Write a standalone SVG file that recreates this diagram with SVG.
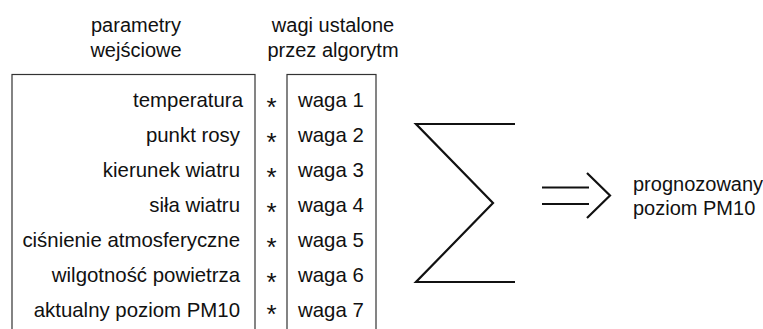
<svg xmlns="http://www.w3.org/2000/svg" width="763" height="329" viewBox="0 0 763 329">
<style>
text{font-family:"Liberation Sans",Arial,sans-serif;font-size:20px;fill:#111}
.r{text-anchor:end;font-size:20.4px}
.w{font-size:20.4px}
.m{text-anchor:middle}
.s{text-anchor:middle;font-size:26px}
.box{fill:none;stroke:#333;stroke-width:1.2}
.ln{fill:none;stroke:#111;stroke-width:2.2;stroke-linecap:butt;stroke-linejoin:miter}
</style>
<rect width="763" height="329" fill="#fff"/>
<g id="header-params">
<text class="m" x="136" y="32">parametry</text>
<text class="m" x="136" y="57">wejściowe</text>
</g>
<g id="header-weights">
<text class="m" x="333" y="32">wagi ustalone</text>
<text class="m" x="333" y="57">przez algorytm</text>
</g>
<g id="params">
<rect class="box" x="12" y="74.5" width="243" height="270"/>
<text class="r" x="243" y="107">temperatura</text>
<text class="r" x="240" y="142">punkt rosy</text>
<text class="r" x="240" y="177">kierunek wiatru</text>
<text class="r" x="240" y="212">siła wiatru</text>
<text class="r" x="240" y="247">ciśnienie atmosferyczne</text>
<text class="r" x="240" y="282">wilgotność powietrza</text>
<text class="r" x="240" y="317">aktualny poziom PM10</text>
</g>
<g id="multiply">
<text class="s" x="271.5" y="116">*</text>
<text class="s" x="271.5" y="151">*</text>
<text class="s" x="271.5" y="186">*</text>
<text class="s" x="271.5" y="221">*</text>
<text class="s" x="271.5" y="256">*</text>
<text class="s" x="271.5" y="291">*</text>
<text class="s" x="271.5" y="323">*</text>
</g>
<g id="weights">
<rect class="box" x="287" y="74.5" width="89" height="270"/>
<text class="w" x="298" y="107">waga 1</text>
<text class="w" x="298" y="142">waga 2</text>
<text class="w" x="298" y="177">waga 3</text>
<text class="w" x="298" y="212">waga 4</text>
<text class="w" x="298" y="247">waga 5</text>
<text class="w" x="298" y="282">waga 6</text>
<text class="w" x="298" y="317">waga 7</text>
</g>
<g id="sum">
<path class="ln" d="M515,124 H416 L493,203 L416,282 H515"/>
</g>
<g id="connectors">
<path class="ln" d="M542,187.5 H589 M542,204 H589"/>
<path class="ln" d="M587,173 L610,195.5 L587,218"/>
</g>
<g id="output">
<text x="633" y="191">prognozowany</text>
<text x="633" y="215">poziom PM10</text>
</g>
</svg>
